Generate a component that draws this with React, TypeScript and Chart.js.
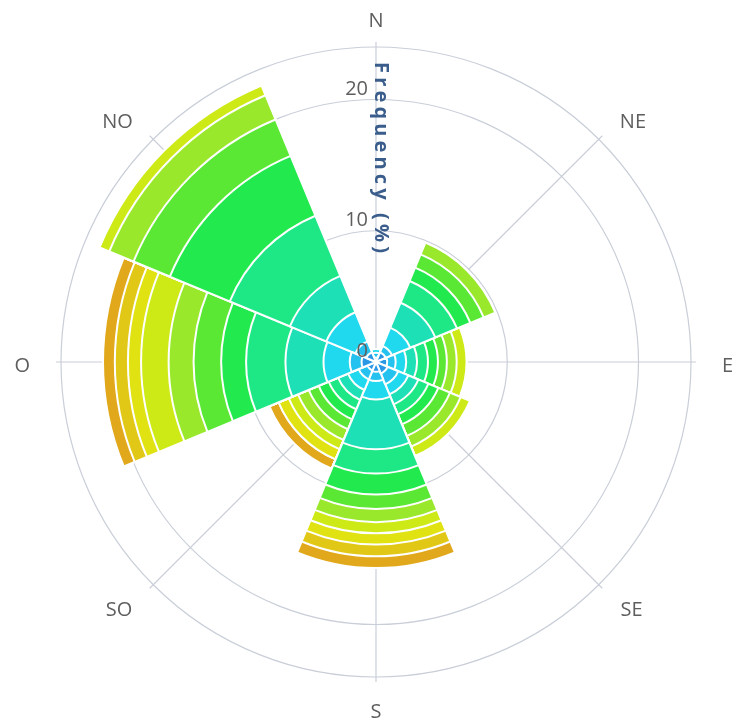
import React, { useEffect, useRef } from "react";
import { Chart, registerables } from "chart.js";

Chart.register(...registerables);

// Directions, clockwise from north
const directions = ["N", "NE", "E", "SE", "S", "SO", "O", "NO"];

// Speed classes (inner to outer)
const speedBins = [
  "0-1", "1-2", "2-3", "3-4", "4-5", "5-6",
  "6-7", "7-8", "8-9", "9-10", "10-11", "11+",
];

const binColors = [
  "#2b98e6", "#25c2f0", "#21d9ee", "#1ee0b6", "#1ee886", "#22ea4e",
  "#5ae834", "#9ae82c", "#cdea16", "#e0e212", "#e2c816", "#e0a81a",
];

// Frequency (%) per direction            N     NE    E     SE    S     SO    O     NO
const bin0 = [0.35, 0.8, 0.85, 0.95, 0.75, 0.7, 1.1, 0.8];
const bin1 = [0.35, 0.52, 0.65, 0.89, 0.7, 0.73, 0.9, 0.9];
const bin2 = [0.3, 1.51, 0.8, 0.83, 1.4, 0.88, 2.0, 2.4];
const bin3 = [0, 2.06, 0.83, 0.82, 3.8, 0.82, 2.9, 3.0];
const bin4 = [0, 1.79, 0.83, 0.83, 1.85, 0.77, 3.0, 4.96];
const bin5 = [0, 1.1, 0.76, 0.82, 1.6, 0.83, 1.9, 4.94];
const bin6 = [0, 1.1, 0.68, 0.96, 1.1, 0.82, 2.1, 3.0];
const bin7 = [0, 0.96, 0.75, 0.88, 1.0, 0.88, 1.9, 2.0];
const bin8 = [0, 0, 0.75, 0.77, 0.85, 0.77, 2.1, 0.8];
const bin9 = [0, 0, 0, 0, 0.85, 0.83, 1.0, 0];
const bin10 = [0, 0, 0, 0, 0.9, 0, 1.0, 0];
const bin11 = [0, 0, 0, 0, 0.9, 0.77, 0.9, 0];

const radialMax = 24;
const radialTicks = [0, 10, 20];
const axisTitle = "Frequency (%)";

const gridColor = "#c9ced8";
const labelColor = "#5e5e5e";
const titleColor = "#3a5d8c";

const roseDecor = {
  id: "roseDecor",
  beforeDatasetsDraw(chart: any) {
    const s = chart.scales.r;
    const ctx = chart.ctx;
    const cx = s.xCenter;
    const cy = s.yCenter;
    const R = s.drawingArea;
    ctx.save();
    ctx.strokeStyle = gridColor;
    ctx.lineWidth = 1.2;
    radialTicks.forEach((v) => {
      if (v === 0) return;
      ctx.beginPath();
      ctx.arc(cx, cy, s.getDistanceFromCenterForValue(v), 0, Math.PI * 2);
      ctx.stroke();
    });
    ctx.beginPath();
    ctx.arc(cx, cy, R, 0, Math.PI * 2);
    ctx.stroke();
    directions.forEach((_, k) => {
      const a = (k * Math.PI * 2) / directions.length;
      ctx.beginPath();
      ctx.moveTo(cx, cy);
      ctx.lineTo(cx + Math.sin(a) * (R + 5), cy - Math.cos(a) * (R + 5));
      ctx.stroke();
    });
    ctx.restore();
  },
  afterDatasetsDraw(chart: any) {
    const s = chart.scales.r;
    const ctx = chart.ctx;
    const cx = s.xCenter;
    const cy = s.yCenter;
    const R = s.drawingArea;
    ctx.save();
    // radial tick labels
    ctx.font = '20px "Open Sans"';
    ctx.fillStyle = labelColor;
    ctx.textAlign = "right";
    ctx.textBaseline = "alphabetic";
    radialTicks.forEach((v) => {
      const d = s.getDistanceFromCenterForValue(v);
      ctx.fillText(String(v), cx - 8, cy - d - 5);
    });
    // direction labels
    ctx.textAlign = "center";
    directions.forEach((lab, k) => {
      const a = (k * Math.PI * 2) / directions.length;
      const dx = Math.sin(a);
      const dy = -Math.cos(a);
      const w = ctx.measureText(lab).width;
      const px = cx + dx * (R + 23) + dx * (w / 2 + 8) + dx * Math.abs(dy) * 6;
      const py = cy + dy * (R + 23) + dy * 7.5 + 3;
      ctx.fillText(lab, px, py + 7);
    });
    // axis title, rotated along the north axis
    ctx.font = '700 20px "Open Sans"';
    ctx.fillStyle = titleColor;
    ctx.textAlign = "left";
    const base = ctx.measureText(axisTitle).width;
    const spacing = Math.max(0, (195 - base) / axisTitle.length);
    (ctx as any).letterSpacing = spacing + "px";
    ctx.translate(cx - 1, cy - s.getDistanceFromCenterForValue(22.85));
    ctx.rotate(Math.PI / 2);
    ctx.fillText(axisTitle, 0, 0);
    ctx.restore();
  },
};

export default function App() {
  const canvasRef = useRef<HTMLCanvasElement | null>(null);

  useEffect(() => {
    if (!canvasRef.current) return;
    const bins = [bin0, bin1, bin2, bin3, bin4, bin5, bin6, bin7, bin8, bin9, bin10, bin11];
    let running = directions.map(() => 0);
    const datasets = bins.map((b, i) => {
      running = running.map((v, k) => v + b[k]);
      return {
        label: speedBins[i],
        data: [...running],
        backgroundColor: binColors[i],
        borderColor: "#ffffff",
        borderWidth: 2,
      };
    });
    const chart = new Chart(canvasRef.current, {
      type: "polarArea",
      data: { labels: directions, datasets },
      options: {
        responsive: false,
        animation: false,
        layout: { padding: { left: 61, right: 46, top: 47, bottom: 47 } },
        plugins: {
          legend: { display: false },
          tooltip: { enabled: false },
        },
        scales: {
          r: {
            min: 0,
            max: radialMax,
            startAngle: -22.5,
            ticks: { display: false },
            grid: { display: false },
            angleLines: { display: false },
            pointLabels: { display: false },
          },
        },
      },
      plugins: [roseDecor],
    } as any);
    return () => chart.destroy();
  }, []);

  return (
    <div
      style={{
        position: "absolute",
        left: 0,
        top: 0,
        width: 737,
        height: 724,
        overflow: "hidden",
        background: "#ffffff",
      }}
    >
      <canvas ref={canvasRef} width={737} height={724} style={{ display: "block" }} />
    </div>
  );
}
